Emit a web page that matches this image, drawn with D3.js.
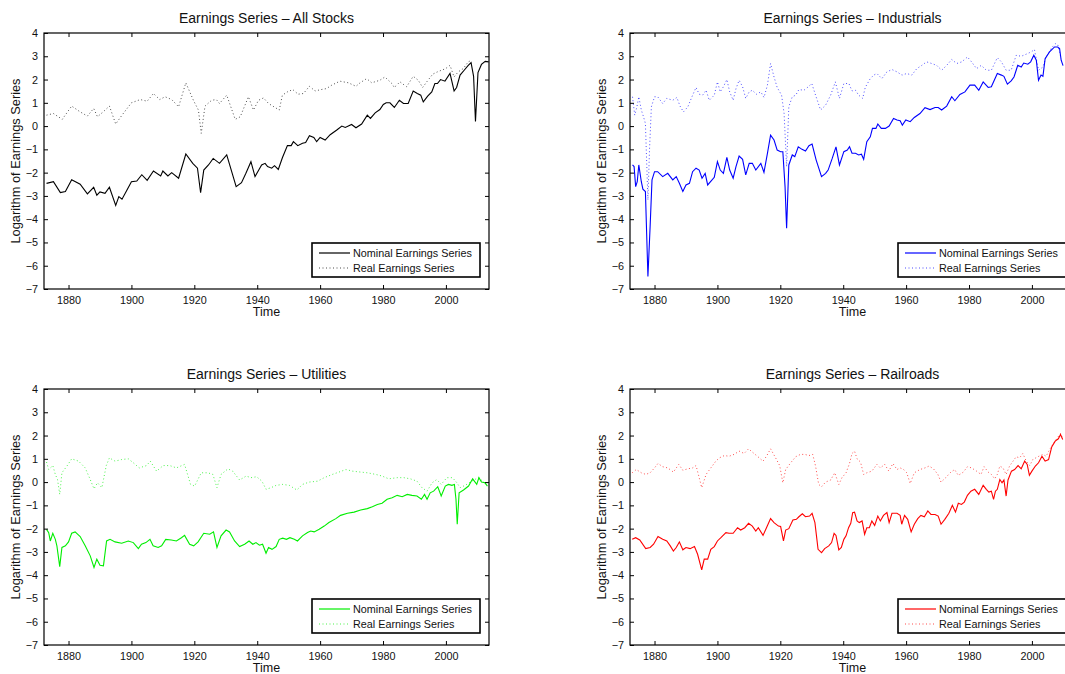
<!DOCTYPE html>
<html>
<head>
<meta charset="utf-8">
<script src="https://cdn.jsdelivr.net/npm/d3@7"></script>
<style>
  body { margin: 0; background: #fff; }
  svg { display: block; font-family: "Liberation Sans", Arial, sans-serif; }
</style>
</head>
<body>
<svg id="chart" width="1065" height="674"></svg>
<script>
// ---- data: [year, log earnings] ----
var xTicks = [1880, 1900, 1920, 1940, 1960, 1980, 2000];
var yTicks = [-7, -6, -5, -4, -3, -2, -1, 0, 1, 2, 3, 4];
var legendLabels = ['Nominal Earnings Series', 'Real Earnings Series'];
var titles = ['Earnings Series \u2013 All Stocks', 'Earnings Series \u2013 Industrials',
              'Earnings Series \u2013 Utilities', 'Earnings Series \u2013 Railroads'];
var colors = ['#000000', '#0000ff', '#00ee00', '#ff0000'];

var allNominal = [[1873,-2.46],[1875.2,-2.39],[1877.4,-2.86],[1879,-2.81],[1881,-2.31],[1883.7,-2.5],[1886,-2.91],[1888,-2.63],[1889,-2.97],[1890,-2.83],[1891.6,-2.89],[1893,-2.63],[1895,-3.41],[1896,-3.03],[1897,-3.14],[1898.5,-2.77],[1900,-2.39],[1901.7,-2.36],[1903.3,-2.09],[1905,-2.33],[1907,-1.93],[1909.3,-2.14],[1910,-1.93],[1911.6,-2.14],[1912.8,-2.0],[1915,-2.24],[1917.3,-1.2],[1919.5,-1.6],[1921,-1.81],[1922,-2.86],[1923,-1.89],[1924.5,-1.67],[1926,-1.39],[1928,-1.6],[1930.3,-1.24],[1933.3,-2.6],[1935,-2.43],[1936.4,-2.03],[1938,-1.53],[1939.3,-2.17],[1940.4,-1.91],[1941.4,-1.67],[1942.5,-1.6],[1943.3,-1.74],[1944.6,-1.81],[1945.5,-1.7],[1946.7,-1.86],[1948,-1.36],[1949.6,-0.84],[1950.8,-0.84],[1951.5,-0.67],[1952.9,-0.84],[1954.4,-0.74],[1955.4,-0.71],[1956.6,-0.41],[1958,-0.49],[1958.9,-0.67],[1960,-0.49],[1961.6,-0.6],[1963.2,-0.37],[1965.3,-0.17],[1966.9,0],[1968,-0.06],[1970,0.07],[1971.4,-0.07],[1973.2,0.09],[1975,0.47],[1976,0.33],[1977.5,0.57],[1979,0.71],[1980.1,0.93],[1981,1.0],[1982.2,1.0],[1983.6,0.8],[1985.2,1.11],[1986.5,0.97],[1988,0.97],[1989.6,1.51],[1990.9,1.4],[1992,1.33],[1992.8,1.04],[1994.2,1.29],[1995.5,1.47],[1996.5,1.83],[1997.3,1.83],[1998.3,2.0],[1999.7,1.93],[2001.3,2.26],[2002.6,1.51],[2003.4,1.66],[2004.5,2.19],[2005.8,2.4],[2007.1,2.61],[2008,2.73],[2008.8,2.14],[2009.4,0.2],[2010.2,2.3],[2011.3,2.65],[2012.5,2.78],[2013.6,2.76]];
var allReal = [[1873,0.47],[1875.2,0.54],[1878,0.29],[1881,0.86],[1883.7,0.61],[1886,0.43],[1888,0.76],[1889.2,0.4],[1891,0.61],[1893,0.86],[1895,0.09],[1897,0.47],[1900,1.0],[1902.8,1.14],[1905,1.07],[1907,1.4],[1909,1.14],[1910.7,1.26],[1912.8,1.14],[1915,0.83],[1917.3,1.86],[1919.7,1.11],[1921.3,0.69],[1922.2,-0.31],[1923.4,0.86],[1925.5,1.11],[1927,1.14],[1928,0.97],[1930.3,1.33],[1933,0.29],[1934.6,0.4],[1937.2,1.26],[1938.8,0.69],[1940.4,1.11],[1942,1.21],[1943.6,0.97],[1947,0.69],[1948,1.33],[1949.6,1.47],[1951.3,1.57],[1953,1.37],[1954.7,1.4],[1956.6,1.71],[1958.4,1.51],[1960.3,1.57],[1962,1.61],[1963.7,1.76],[1966.3,1.93],[1969,1.86],[1971.4,1.71],[1972.7,1.86],[1974.8,2.04],[1976.4,1.86],[1979,1.97],[1980.6,2.11],[1982.8,1.83],[1983.6,1.66],[1985.4,1.9],[1987.5,1.69],[1989.6,2.14],[1991.2,1.97],[1992.6,1.66],[1993.9,1.9],[1995.8,2.23],[1997.3,2.33],[1998.6,2.4],[1999.9,2.47],[2001.3,2.61],[2002.6,2.11],[2003.9,2.33],[2005.5,2.47],[2007.1,2.76],[2008.2,2.83]];

var indNominal = [[1873,-1.67],[1873.5,-1.74],[1874,-2.6],[1874.5,-2.39],[1875,-1.67],[1875.8,-2.39],[1876.3,-2.71],[1877.1,-2.81],[1877.9,-6.46],[1878.6,-4.31],[1879.2,-2.31],[1880,-1.96],[1881,-1.96],[1882.6,-2.17],[1884.2,-2.03],[1885.8,-2.31],[1886.9,-2.17],[1887.9,-2.46],[1889,-2.81],[1890,-2.53],[1891.1,-2.46],[1892.1,-1.96],[1893.2,-1.81],[1894.2,-1.89],[1895.1,-2.24],[1896.1,-2.03],[1896.9,-2.53],[1899,-2.2],[1900,-1.53],[1900.9,-1.89],[1901.9,-2.03],[1903,-1.34],[1903.9,-1.89],[1905,-2.24],[1905.9,-1.74],[1906.9,-1.29],[1908,-1.43],[1909,-2.1],[1910.1,-1.6],[1911.1,-1.6],[1912.2,-1.89],[1913.8,-1.6],[1914.8,-1.99],[1915.9,-1.17],[1916.9,-0.39],[1918,-0.6],[1919,-1.03],[1920.1,-1.1],[1920.8,-1.1],[1921.5,-2.6],[1922,-4.39],[1922.7,-1.67],[1923.8,-1.24],[1924.6,-1.31],[1925.7,-0.89],[1926.9,-1.0],[1928,-1.07],[1929.1,-0.84],[1930.1,-0.77],[1931.4,-1.46],[1933.1,-2.17],[1934.4,-2.03],[1935.2,-1.89],[1936.5,-1.39],[1937.7,-0.89],[1938.8,-1.67],[1940.2,-1.1],[1941.3,-1.03],[1942,-0.89],[1942.8,-1.17],[1943.9,-1.17],[1944.9,-1.24],[1945.8,-1.21],[1946.5,-1.43],[1947.5,-0.67],[1948.6,-0.46],[1949.3,-0.1],[1950.4,-0.1],[1951,0.09],[1952.1,-0.1],[1953.4,-0.1],[1954.6,0],[1956,0.33],[1957.1,0.26],[1958.1,0.23],[1958.8,0.04],[1959.9,0.26],[1961.3,0.19],[1962.6,0.37],[1964.4,0.54],[1966,0.79],[1967.6,0.71],[1969.2,0.8],[1970.2,0.8],[1971.3,0.69],[1972.9,0.86],[1974.5,1.26],[1975.5,1.09],[1977.1,1.36],[1978.7,1.47],[1980.3,1.76],[1981.8,1.76],[1983.1,1.54],[1984.5,1.9],[1986.1,1.66],[1987.1,1.69],[1989,2.26],[1990.3,2.19],[1991.1,2.14],[1992.2,1.8],[1993.4,1.94],[1994.3,2.11],[1995.5,2.61],[1996.6,2.54],[1997.4,2.71],[1998.7,2.66],[1999.6,2.76],[2000.6,3.04],[2001.4,2.83],[2002.1,1.97],[2002.9,2.19],[2003.5,2.14],[2004.2,2.9],[2005.6,3.19],[2007.2,3.4],[2008.2,3.4],[2008.8,3.33],[2009.3,2.83],[2009.9,2.6]];
var indReal = [[1873,1.26],[1873.7,0.47],[1874.4,0.83],[1875,1.26],[1875.8,0.69],[1876.5,0.4],[1877.1,0.11],[1877.9,-3.17],[1878.4,-1.03],[1879,0.83],[1880,1.26],[1881,1.26],[1882.6,0.97],[1883.9,1.19],[1885.8,1.11],[1887.1,1.23],[1888.1,0.86],[1889.2,0.61],[1890.6,0.83],[1891.9,1.26],[1893.2,1.66],[1894.2,1.37],[1895.3,1.33],[1896.4,1.54],[1897.4,1.11],[1899,1.33],[1900,1.9],[1900.9,1.47],[1901.9,1.69],[1903,2.0],[1903.9,1.47],[1905,1.11],[1905.9,1.61],[1906.9,1.97],[1908,1.69],[1909,1.19],[1910.1,1.47],[1911.1,1.54],[1912.4,1.37],[1913.8,1.47],[1914.8,1.23],[1915.9,1.76],[1916.9,2.69],[1918,2.11],[1919,1.66],[1920.4,1.33],[1921.2,0.54],[1922,-1.74],[1922.7,0.83],[1923.8,1.26],[1924.9,1.33],[1925.9,1.57],[1927.5,1.54],[1928.9,1.69],[1930,1.83],[1931.2,1.33],[1932.8,0.69],[1934.4,0.9],[1936,1.33],[1937.5,1.9],[1938.8,1.19],[1940.2,1.83],[1941.8,1.83],[1942.8,1.51],[1943.9,1.54],[1944.9,1.33],[1946.2,1.19],[1947,1.66],[1948.6,2.04],[1949.7,2.19],[1950.7,2.26],[1952.3,2.04],[1953.9,2.33],[1955.5,2.43],[1957.1,2.33],[1958.7,2.19],[1960.2,2.26],[1961.8,2.19],[1963.4,2.47],[1965,2.61],[1966.5,2.76],[1968.1,2.69],[1969.7,2.61],[1971.3,2.4],[1972.9,2.61],[1974.5,2.86],[1976.1,2.69],[1977.7,2.76],[1979.5,2.97],[1980.8,2.76],[1982.4,2.47],[1983.9,2.61],[1985.5,2.4],[1987.1,2.4],[1989,2.94],[1990.3,2.76],[1991.8,2.4],[1993.4,2.4],[1995,3.04],[1996.6,3.0],[1998.2,3.09],[1999.8,3.19],[2000.8,3.29],[2002.1,2.4],[2003.5,2.54],[2004.5,2.97],[2006.1,3.33],[2007.4,3.54],[2008.2,3.51],[2009.3,2.9]];

var utilNominal = [[1873,-2.03],[1873.7,-2.17],[1874.2,-2.53],[1875,-2.2],[1875.8,-2.46],[1876.3,-2.74],[1877.2,-3.63],[1877.9,-2.81],[1879,-2.74],[1880,-2.57],[1881,-2.2],[1882.1,-2.14],[1883.7,-2.34],[1885.3,-2.74],[1886.9,-3.17],[1888.1,-3.67],[1889,-3.31],[1890,-3.57],[1891.1,-3.6],[1892.1,-2.53],[1893.2,-2.46],[1894.8,-2.57],[1896.9,-2.63],[1899,-2.53],[1900.6,-2.6],[1902.2,-2.86],[1903.2,-2.67],[1904.6,-2.6],[1905.9,-2.46],[1906.9,-2.74],[1908.5,-2.81],[1909.6,-2.74],[1910.9,-2.46],[1912.7,-2.49],[1914.3,-2.53],[1915.9,-2.39],[1916.9,-2.29],[1918.5,-2.67],[1919.8,-2.74],[1921.2,-2.57],[1923,-2.2],[1924.9,-2.24],[1926.1,-2.14],[1927.2,-2.81],[1928.5,-2.31],[1930.1,-2.06],[1931.2,-2.14],[1932.8,-2.53],[1934.4,-2.77],[1936,-2.67],[1937.4,-2.53],[1938.6,-2.67],[1939.6,-2.6],[1940.7,-2.71],[1941.7,-2.67],[1942.8,-3.06],[1943.6,-2.81],[1944.7,-2.89],[1946,-2.77],[1947,-2.46],[1948.1,-2.41],[1949.3,-2.46],[1950.4,-2.39],[1951.8,-2.46],[1952.8,-2.53],[1954.4,-2.31],[1956,-2.17],[1957,-2.1],[1958.1,-2.14],[1959.7,-2.03],[1961.3,-1.89],[1962.8,-1.74],[1965,-1.57],[1966.5,-1.43],[1968.7,-1.34],[1970.8,-1.29],[1972.9,-1.2],[1975,-1.14],[1976.6,-1.06],[1978.2,-0.96],[1979.7,-0.91],[1981.3,-0.74],[1982.9,-0.67],[1984.5,-0.57],[1986.1,-0.63],[1987.7,-0.53],[1989.2,-0.57],[1990.8,-0.6],[1992.2,-0.74],[1993.2,-0.53],[1994,-0.74],[1995,-0.46],[1996.1,-0.39],[1997.4,-0.2],[1998.5,-0.6],[1999.8,-0.17],[2000.8,-0.1],[2001.9,-0.14],[2002.7,-0.1],[2003.2,-0.74],[2003.6,-1.81],[2004.2,-0.46],[2005.6,-0.34],[2007.2,-0.17],[2008.5,0.14],[2009.8,-0.1],[2010.5,0.19],[2011.3,0],[2012.4,-0.03],[2013.2,-0.17]];
var utilReal = [[1873,0.86],[1873.7,0.54],[1875,0.71],[1875.8,0.33],[1876.5,0.11],[1877.2,-0.53],[1877.9,0.4],[1879.5,0.69],[1881,1.0],[1883.2,0.9],[1885.3,0.61],[1886.9,0.11],[1888.1,-0.29],[1889.2,-0.03],[1890.6,-0.24],[1892,0.71],[1893,1.04],[1894.8,0.9],[1896.9,0.97],[1899,1.0],[1900.6,0.83],[1902.5,0.61],[1904.8,0.71],[1906,0.9],[1908,0.47],[1910.1,0.71],[1912.2,0.71],[1914.3,0.61],[1916.9,0.76],[1918.8,-0.1],[1920.1,-0.17],[1922.2,0.4],[1924.3,0.4],[1925.9,0.33],[1927.2,-0.24],[1928.5,0.33],[1930.7,0.57],[1932.2,0.47],[1934.4,0.09],[1936.5,0.26],[1938,0.19],[1939.8,0.23],[1941.5,0.04],[1942.8,-0.31],[1944.4,-0.24],[1946,-0.14],[1948.1,-0.1],[1950.2,-0.14],[1952.6,-0.34],[1954.4,-0.1],[1956.5,0],[1959.2,0.04],[1961.3,0.19],[1963.9,0.33],[1966,0.43],[1968.2,0.54],[1970.3,0.47],[1972.9,0.43],[1975,0.4],[1977.7,0.33],[1979.7,0.26],[1981.8,0.14],[1984.5,0.19],[1986.6,0.19],[1988.7,0.14],[1990.8,0.04],[1992.4,-0.24],[1994,-0.39],[1995.6,-0.03],[1997.1,0.11],[1998.5,-0.1],[2000.3,0.19],[2002.1,0.19],[2003.5,-0.03],[2004.5,-0.24],[2006.1,-0.14],[2008.2,0.04],[2010.3,0.19],[2013,-0.1]];

var railNominal = [[1872.9,-2.46],[1874,-2.39],[1875.3,-2.49],[1877.2,-2.86],[1878.6,-2.81],[1879.7,-2.67],[1881.1,-2.34],[1882.6,-2.46],[1883.9,-2.53],[1885,-2.74],[1886,-2.96],[1886.9,-2.81],[1887.9,-2.57],[1889,-2.91],[1890,-2.81],[1891.3,-2.86],[1892.7,-2.77],[1893.7,-3.1],[1895,-3.77],[1895.8,-3.31],[1896.9,-3.31],[1897.9,-2.89],[1899,-2.77],[1900,-2.53],[1901.1,-2.39],[1902.7,-2.17],[1903.7,-2.2],[1905,-2.2],[1906.4,-1.96],[1907.4,-2.06],[1908.7,-1.96],[1909.9,-1.77],[1911.1,-1.89],[1912.2,-2.1],[1913,-1.96],[1914.5,-2.29],[1915.6,-1.96],[1916.9,-1.57],[1918,-1.74],[1919.4,-1.89],[1920.1,-1.91],[1921,-2.53],[1921.7,-2.06],[1922.7,-2.0],[1924,-1.63],[1925.1,-1.6],[1925.9,-1.49],[1927,-1.36],[1928,-1.49],[1929.3,-1.46],[1930.1,-1.34],[1931,-1.74],[1932,-2.89],[1933.1,-3.03],[1934.1,-2.86],[1935.4,-2.74],[1936.3,-2.6],[1937.1,-2.2],[1937.7,-2.29],[1938.6,-2.91],[1939.4,-2.81],[1940.2,-2.46],[1940.9,-2.31],[1941.7,-1.96],[1942.4,-1.77],[1943,-1.31],[1943.6,-1.29],[1944.4,-1.67],[1945.1,-1.74],[1946,-1.67],[1946.8,-2.24],[1947.5,-1.96],[1948.3,-1.96],[1949.1,-1.67],[1950,-1.86],[1951,-1.46],[1951.8,-1.67],[1952.8,-1.43],[1953.9,-1.31],[1954.6,-1.74],[1955.5,-1.34],[1957.1,-1.34],[1958.1,-1.43],[1958.6,-1.81],[1959.5,-1.43],[1960.5,-1.6],[1961.6,-2.14],[1962.6,-1.81],[1963.7,-1.57],[1964.7,-1.43],[1965.8,-1.49],[1966.9,-1.24],[1967.9,-1.39],[1969.2,-1.39],[1970.2,-1.46],[1971.1,-1.81],[1972.3,-1.6],[1973.6,-1.34],[1974.7,-1.0],[1975.7,-1.29],[1976.6,-0.91],[1977.6,-0.96],[1978.5,-0.86],[1979.5,-0.57],[1980.6,-0.39],[1981.8,-0.31],[1983.1,-0.53],[1984.5,-0.14],[1985.5,-0.31],[1986.3,-0.43],[1987.1,-0.39],[1987.8,-0.74],[1988.4,-0.39],[1989,-0.31],[1989.8,0.11],[1990.5,-0.03],[1991.1,0.09],[1991.8,-0.6],[1992.4,0.09],[1993.5,0.47],[1994.5,0.54],[1995.6,0.71],[1996.6,0.57],[1997.7,0.9],[1998.5,0.76],[1999.2,0.29],[2000,0.47],[2001.1,0.69],[2002.1,0.83],[2003.2,1.11],[2004.2,0.9],[2005.3,0.97],[2006.3,1.51],[2007.4,1.76],[2008.4,1.86],[2009.1,2.04],[2009.8,1.83]];
var railReal = [[1872.9,0.4],[1874.2,0.54],[1875.8,0.4],[1877.2,0.33],[1878.6,0.4],[1880,0.61],[1881.1,0.8],[1882.6,0.66],[1884.2,0.61],[1886,0.43],[1887.7,0.76],[1889,0.51],[1890.6,0.57],[1892.1,0.61],[1893.2,0.71],[1894.2,0.19],[1895,-0.24],[1896.4,0.33],[1897.9,0.61],[1899.5,0.9],[1900.6,1.04],[1902.2,1.14],[1903.7,1.11],[1905.3,1.19],[1906.9,1.33],[1908.5,1.23],[1909.9,1.43],[1911.1,1.29],[1912.7,1.11],[1914.5,0.9],[1915.6,1.11],[1916.9,1.43],[1918.5,1.04],[1919.8,0.71],[1920.8,-0.03],[1921.7,0.54],[1923.3,0.83],[1924.9,1.09],[1926.4,1.19],[1927.8,1.19],[1929.1,1.14],[1930.3,1.19],[1931.2,0.69],[1932.2,-0.1],[1933.1,-0.2],[1934.4,0],[1936,0.09],[1937.3,0.4],[1938.6,-0.1],[1939.6,0.19],[1940.9,0.4],[1942,0.8],[1942.8,1.23],[1943.6,1.33],[1944.4,1.0],[1945.5,0.86],[1946.5,0.33],[1947.5,0.4],[1949.1,0.47],[1950.7,0.76],[1951.8,0.61],[1953.2,0.76],[1954.5,0.47],[1955.8,0.8],[1957.1,0.54],[1958.1,0.61],[1959.2,0.54],[1960.2,0.4],[1961.3,-0.06],[1962.6,0.4],[1964.4,0.54],[1966,0.61],[1967.3,0.69],[1968.7,0.57],[1970.1,0.33],[1971.1,0],[1972.6,0.19],[1974,0.4],[1975.4,0.54],[1976.6,0.29],[1978.2,0.43],[1979.5,0.66],[1980.8,0.61],[1982.4,0.47],[1983.8,0.33],[1984.8,0.66],[1986.1,0.43],[1987.1,0.33],[1988.2,0.14],[1989,0.33],[1989.8,0.69],[1990.8,0.61],[1991.8,0.33],[1992.9,0.69],[1994,0.9],[1995,1.09],[1996.1,1.04],[1997.1,1.23],[1998.2,0.9],[1999.3,0.71],[2000.3,0.97],[2001.9,1.09],[2003.5,1.19],[2004.5,1.11],[2006.1,1.51],[2007.7,1.83],[2009.1,2.09],[2009.8,1.86]];

var panels = [
  {title: titles[0], color: colors[0], nominal: allNominal, real: allReal, left: 44, top: 33},
  {title: titles[1], color: colors[1], nominal: indNominal, real: indReal, left: 630, top: 33},
  {title: titles[2], color: colors[2], nominal: utilNominal, real: utilReal, left: 44, top: 389},
  {title: titles[3], color: colors[3], nominal: railNominal, real: railReal, left: 630, top: 389}
];

var W = 445, H = 256, tickLen = 4;
var svg = d3.select('#chart');

panels.forEach(function(p, k) {
  var g = svg.append('g').attr('transform', 'translate(' + p.left + ',' + p.top + ')');
  var x = d3.scaleLinear().domain([1872.2, 2013.7]).range([0, W]);
  var y = d3.scaleLinear().domain([-7, 4]).range([H, 0]);

  var clipId = 'clip' + k;
  g.append('clipPath').attr('id', clipId).append('rect').attr('width', W).attr('height', H);

  var line = d3.line().x(function(d){ return x(d[0]); }).y(function(d){ return y(d[1]); });

  // real (dotted) then nominal (solid)
  g.append('path').datum(p.real)
    .attr('clip-path', 'url(#' + clipId + ')')
    .attr('d', line).attr('fill', 'none')
    .attr('stroke', p.color).attr('stroke-width', 1)
    .attr('stroke-dasharray', '1,2.5').attr('opacity', 0.7);
  g.append('path').datum(p.nominal)
    .attr('clip-path', 'url(#' + clipId + ')')
    .attr('d', line).attr('fill', 'none')
    .attr('stroke', p.color).attr('stroke-width', 1.1);

  // axes, MATLAB style: inward ticks on all four sides
  var fmt = d3.format('d');
  var bottom = g.append('g').attr('transform', 'translate(0,' + H + ')')
    .call(d3.axisBottom(x).tickValues(xTicks).tickFormat(fmt).tickSizeInner(-tickLen).tickSizeOuter(0).tickPadding(7));
  var top = g.append('g')
    .call(d3.axisTop(x).tickValues(xTicks).tickFormat('').tickSizeInner(-tickLen).tickSizeOuter(0));
  var leftAx = g.append('g')
    .call(d3.axisLeft(y).tickValues(yTicks).tickSizeInner(-tickLen).tickSizeOuter(0).tickPadding(6));
  var rightAx = g.append('g').attr('transform', 'translate(' + W + ',0)')
    .call(d3.axisRight(y).tickValues(yTicks).tickFormat('').tickSizeInner(-tickLen).tickSizeOuter(0));

  [bottom, top, leftAx, rightAx].forEach(function(a) {
    a.select('.domain').remove();
    a.selectAll('line').attr('stroke', '#000');
    a.selectAll('text').attr('fill', '#111').style('font-size', '10.8px');
  });

  g.append('rect').attr('width', W).attr('height', H)
    .attr('fill', 'none').attr('stroke', '#000').attr('stroke-width', 1.2);

  // titles and labels
  g.append('text').attr('x', W / 2).attr('y', -10).attr('text-anchor', 'middle')
    .style('font-size', '14px').attr('fill', '#111').text(p.title);
  g.append('text').attr('x', W / 2).attr('y', H + 27).attr('text-anchor', 'middle')
    .style('font-size', '12.5px').attr('fill', '#111').text('Time');
  g.append('text').attr('transform', 'translate(-24,' + (H / 2) + ') rotate(-90)')
    .attr('text-anchor', 'middle').style('font-size', '12.8px').attr('fill', '#111')
    .text('Logarithm of Earnings Series');

  // legend
  var lg = g.append('g').attr('transform', 'translate(268,210)');
  lg.append('rect').attr('width', 168).attr('height', 34)
    .attr('fill', '#fff').attr('stroke', '#000').attr('stroke-width', 1.6);
  legendLabels.forEach(function(lab, i) {
    var yy = 10 + i * 15;
    lg.append('line').attr('x1', 7).attr('x2', 38).attr('y1', yy).attr('y2', yy)
      .attr('stroke', p.color).attr('stroke-width', i ? 1 : 1.2)
      .attr('stroke-dasharray', i ? '1,2.5' : null).attr('opacity', i ? 0.7 : 1);
    lg.append('text').attr('x', 41).attr('y', yy + 3.5)
      .style('font-size', '10.8px').attr('fill', '#111').text(lab);
  });
});
</script>
</body>
</html>
